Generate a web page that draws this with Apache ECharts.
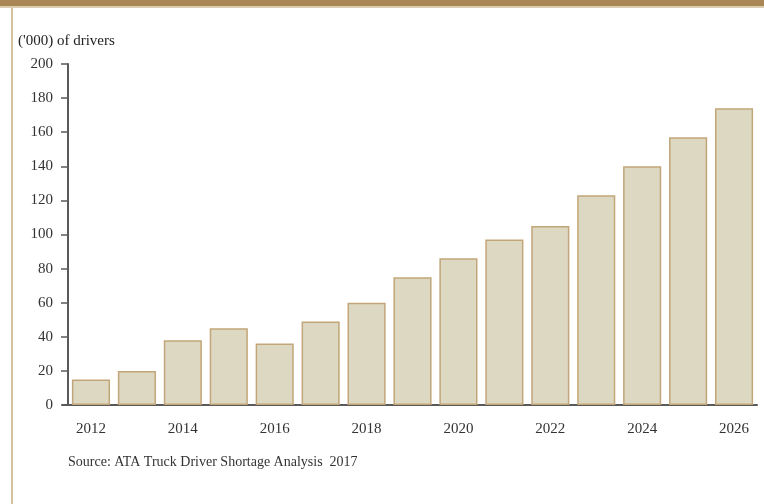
<!DOCTYPE html>
<html>
<head>
<meta charset="utf-8">
<script src="https://cdn.jsdelivr.net/npm/echarts@6/dist/echarts.min.js"></script>
<style>
  html, body { margin: 0; padding: 0; background: #fff; }
  #chart { width: 764px; height: 504px; }
</style>
</head>
<body>
<div id="chart"></div>
<script>
const years = ["2012", "2013", "2014", "2015", "2016", "2017", "2018", "2019",
  "2020", "2021", "2022", "2023", "2024", "2025", "2026"];
const shortage = [15, 20, 38, 45, 36, 49, 60, 75, 86, 97, 105, 123, 140, 157, 174];
const unitLabel = "('000) of drivers";
const sourceNote = "Source: ATA Truck Driver Shortage Analysis  2017";

const chart = echarts.init(document.getElementById("chart"));
const serif = "'Liberation Serif', 'DejaVu Serif', serif";

chart.setOption({
  animation: false,
  textStyle: { fontFamily: serif },
  grid: { left: 68, right: 7, top: 64, bottom: 99 },
  graphic: [
    { type: "rect", shape: { x: 0, y: 0, width: 764, height: 6 }, style: { fill: "#a88755" } },
    { type: "rect", shape: { x: 0, y: 6, width: 764, height: 2 }, style: { fill: "#dccdb0" } },
    { type: "rect", shape: { x: 11, y: 8, width: 2, height: 496 }, style: { fill: "#d3c19d" } },
    // short stub of the x axis to the left of the y axis
    { type: "rect", shape: { x: 62, y: 404, width: 8, height: 2 }, style: { fill: "#5a5a5a" } },
    {
      type: "text", left: 18, top: 34,
      style: { text: unitLabel, font: "15px " + serif, fill: "#222" }
    },
    {
      type: "text", left: 68, top: 455,
      style: { text: sourceNote, font: "14px " + serif, fill: "#333" }
    }
  ],
  xAxis: {
    type: "category",
    data: years,
    axisLine: { lineStyle: { color: "#5a5a5a", width: 2 } },
    axisTick: { show: false },
    axisLabel: { interval: 1, color: "#333", fontSize: 15, fontFamily: serif, margin: 17 }
  },
  yAxis: {
    type: "value",
    min: 0,
    max: 200,
    interval: 20,
    splitLine: { show: false },
    axisLine: { show: true, lineStyle: { color: "#5a5a5a", width: 2 } },
    axisTick: { show: true, length: 7, lineStyle: { color: "#5a5a5a", width: 1.5 } },
    axisLabel: { color: "#333", fontSize: 15, fontFamily: serif, margin: 15 }
  },
  series: [{
    type: "bar",
    data: shortage,
    barCategoryGap: "17%",
    itemStyle: { color: "#ddd8c2", borderColor: "#c2a679", borderWidth: 1.5 }
  }]
});
</script>
</body>
</html>
